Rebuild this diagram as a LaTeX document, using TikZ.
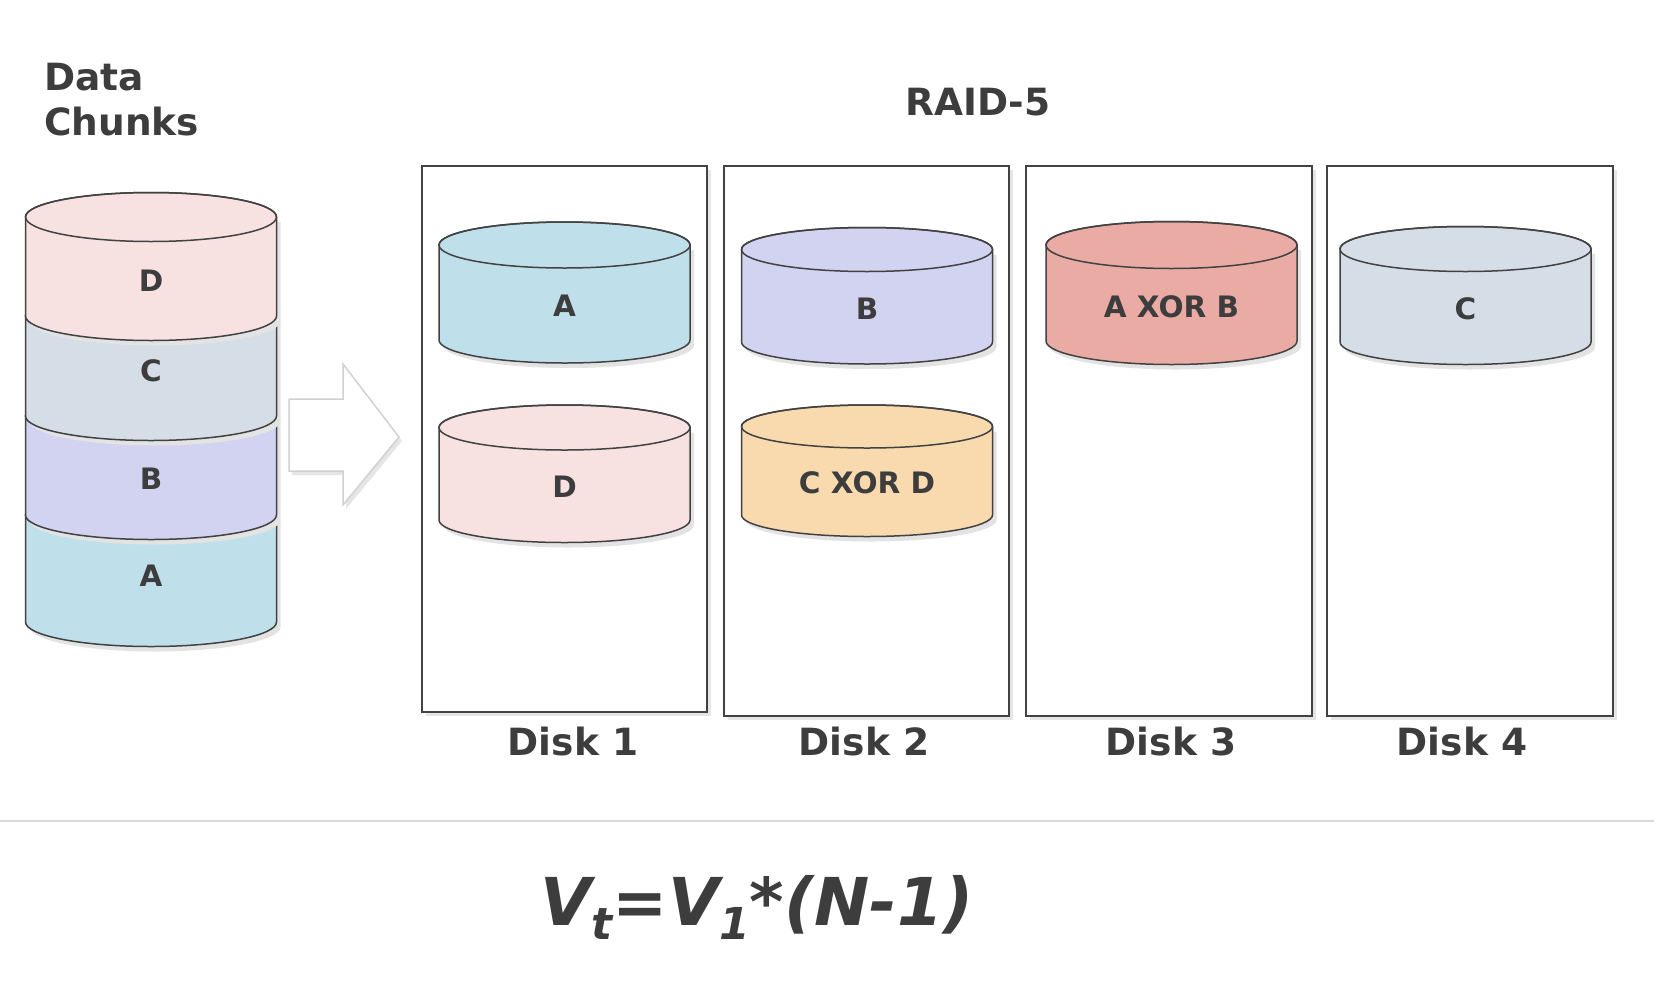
\documentclass[tikz,border=0pt]{standalone}
\usepackage{fontspec}
\setmainfont{DejaVu Sans}
\usetikzlibrary{shadows}
\definecolor{chA}{HTML}{BFDFEB}
\definecolor{chB}{HTML}{D2D2F1}
\definecolor{chC}{HTML}{D5DDE7}
\definecolor{chD}{HTML}{F8E2E1}
\definecolor{xorAB}{HTML}{EAABA4}
\definecolor{xorCD}{HTML}{F8DAAE}
\definecolor{ink}{HTML}{3D3D3D}
\definecolor{edge}{HTML}{424242}
\tikzset{
  line/.style={draw=edge,line width=1.5pt},
  shade col/.style={fill=black!11},
  lbl/.style={font=\fontsize{29.5}{34}\selectfont\bfseries,text=ink,inner sep=0pt},
  title/.style={font=\fontsize{37.5}{44}\selectfont\bfseries,text=ink,inner sep=0pt,anchor=base},
  diskbox/.style={draw=edge,line width=1.8pt,fill=white,inner sep=0pt,
    drop shadow={shadow xshift=4pt,shadow yshift=-4pt,fill=black!10,opacity=1}},
}
% drum: name, cx, ytop, ybot, ry, fill, text, text y
\newcommand\drum[8]{%
  \fill[shade col,shift={(4,-5)}] (#2-\RX,-#3) -- (#2-\RX,-#4)
    arc[start angle=180,end angle=360,x radius=\RX,y radius=#5] -- (#2+\RX,-#3) -- cycle;
  \filldraw[fill=#6,line] (#2-\RX,-#3) -- (#2-\RX,-#4)
    arc[start angle=180,end angle=360,x radius=\RX,y radius=#5] -- (#2+\RX,-#3)
    arc[start angle=0,end angle=180,x radius=\RX,y radius=#5] -- cycle;
  \draw[line] (#2,-#3) ellipse[x radius=\RX,y radius=#5];
  \node[lbl] (#1) at (#2,-#8) {#7};}
\begin{document}
\begin{tikzpicture}[x=1pt,y=1pt]
  \def\RX{125.5}
  \useasboundingbox (0,0) rectangle (1654,-980);
  % titles
  \node[title,anchor=base west] (data) at (44,-90) {Data};
  \node[title,anchor=base west] (chunks) at (44,-135) {Chunks};
  \node[title] (raid) at (978,-115) {RAID-5};
  % data chunks stack, drawn bottom up
  \drum{stA}{151}{515}{622}{24.5}{chA}{A}{576}
  \drum{stB}{151}{416}{515}{24.5}{chB}{B}{479}
  \drum{stC}{151}{316}{416}{24.5}{chC}{C}{371}
  \drum{stD}{151}{217}{316}{24.5}{chD}{D}{281}
  % block arrow
  \filldraw[draw=black!18,line width=1.5pt,fill=white,
    drop shadow={shadow xshift=3pt,shadow yshift=-4pt,fill=black!10,opacity=1}]
    (289,-399) -- (343,-399) -- (343,-364) -- (399,-437) -- (343,-505) -- (343,-471) -- (289,-471) -- cycle;
  % disks
  \node[diskbox,minimum width=285pt,minimum height=546pt] (disk1) at (564.5,-439) {};
  \node[diskbox,minimum width=285pt,minimum height=550pt] (disk2) at (866.5,-441) {};
  \node[diskbox,minimum width=286pt,minimum height=550pt] (disk3) at (1169,-441) {};
  \node[diskbox,minimum width=286pt,minimum height=550pt] (disk4) at (1470,-441) {};
  \foreach \n/\cx in {1/573,2/864,3/1171,4/1462}
    \node[title] (dlbl\n) at (\cx,-755) {Disk \n};
  % stripes
  \drum{d1A}{564.5}{245}{340}{23}{chA}{A}{306}
  \drum{d1D}{564.5}{427.5}{520}{22.5}{chD}{D}{487}
  \drum{d2B}{867}{249.5}{342}{22}{chB}{B}{309}
  \drum{d2P}{867}{426.5}{515}{21.5}{xorCD}{C XOR D}{483}
  \drum{d3P}{1171.5}{245}{341}{23.5}{xorAB}{A XOR B}{307}
  \drum{d4C}{1465.5}{249}{342}{22.5}{chC}{C}{309}
  % separator and formula
  \draw[black!15,line width=1.5pt] (0,-821) -- (1654,-821);
  \node[anchor=base,inner sep=0pt,text=ink,font=\fontsize{66}{70}\selectfont\bfseries\itshape] (formula) at (757,-925)
    {V\raisebox{-14pt}{\fontsize{44}{44}\selectfont t}=V\raisebox{-14pt}{\fontsize{44}{44}\selectfont 1}*(N-1)};
\end{tikzpicture}
\end{document}
